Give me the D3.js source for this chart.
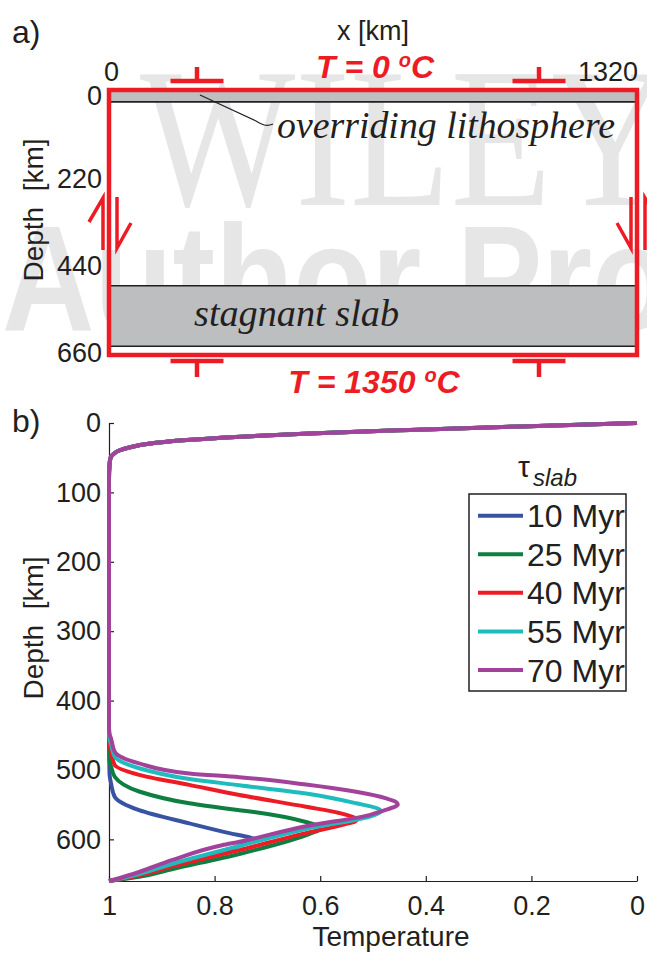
<!DOCTYPE html>
<html><head><meta charset="utf-8">
<script src="https://cdn.jsdelivr.net/npm/d3@7"></script>
<style>
body{margin:0;background:#fff;}
svg{display:block;}
text{font-family:"Liberation Sans",Arial,Helvetica,sans-serif;fill:#231f20;}
</style>
</head><body>
<svg id="chart" width="647" height="954"></svg>
<script>
// ---------- data ----------
const seriesLabels = ["10 Myr", "25 Myr", "40 Myr", "55 Myr", "70 Myr"];
const seriesColors = ["#3953a4", "#0e7f41", "#ed1c24", "#1fbcbd", "#a3429a"];
const tempTicks = [1, 0.8, 0.6, 0.4, 0.2, 0];
const depthTicks = [0, 100, 200, 300, 400, 500, 600];
const boxDepthTicks = [0, 220, 440, 660];
const boxXTicks = [0, 1320];
const boxMarkersX = [220, 1075];          // km, positions of red markers in panel a
const lithosphereBase = 25;               // km
const slabTop = 490, slabBase = 643;      // km

// shared thermal boundary layer at the surface: [T, depth]
const surfaceProfile = [[0,0],[0.22,5],[0.43,10],[0.62,15],[0.76,20],[0.86,25],[0.925,30],[0.96,35],[0.982,40],[0.992,45],[0.997,50],[0.999,60],[1,80]];
// slab profiles: [T, depth]
const slab10 = [[1,440],[0.999,505],[0.996,520],[0.989,539],[0.943,558],[0.848,577],[0.772,591],[0.735,597],[0.722,600],[0.735,604],[0.752,609],[0.829,629],[0.905,646],[0.962,655.5],[1,660]];
const slab25 = [[1,440],[0.999,485],[0.996,495],[0.989,510],[0.943,531],[0.848,548],[0.753,558],[0.722,561],[0.627,575],[0.603,581],[0.600,585],[0.62,592],[0.753,621],[0.881,643],[0.943,654],[1,660]];
const slab40 = [[1,440],[0.999,465],[0.996,474],[0.989,493],[0.943,507],[0.848,521.5],[0.753,536],[0.627,553],[0.564,562],[0.535,569],[0.532,573],[0.554,578.5],[0.627,591],[0.753,615.5],[0.881,639],[0.943,652],[1,660]];
const slab55 = [[1,440],[0.999,455],[0.996,463],[0.989,481],[0.943,497.5],[0.848,513],[0.753,522],[0.627,534],[0.532,548],[0.49,556],[0.485,560],[0.503,566.5],[0.627,585],[0.753,609.5],[0.881,635.5],[0.943,650],[0.981,657],[1,660]];
const slab70 = [[1,440],[0.999,448],[0.996,455],[0.989,474],[0.943,490.5],[0.848,505],[0.753,510.5],[0.627,521],[0.532,531.5],[0.475,541],[0.455,547],[0.453,550],[0.462,554],[0.48,558.5],[0.507,565],[0.627,581],[0.753,603.5],[0.786,608.5],[0.881,630],[0.943,647],[0.981,656],[1,660]];
const slabProfiles = [slab10, slab25, slab40, slab55, slab70];

// ---------- setup ----------
const svg = d3.select("#chart");
const red = "#ed1c24";
const ink = "#231f20";
const serif = '"Liberation Serif","DejaVu Serif",Georgia,serif';

// watermark
svg.append("text").attr("x", 140).attr("y", 205).attr("font-family", serif)
  .attr("font-size", 200).attr("textLength", 530).attr("lengthAdjust", "spacingAndGlyphs")
  .style("fill", "#e6e6e6").style("font-family", serif).text("WILEY");
svg.append("text").attr("x", 2).attr("y", 330)
  .attr("font-size", 150).attr("font-weight", "bold").attr("textLength", 789).attr("lengthAdjust", "spacingAndGlyphs")
  .style("fill", "#e6e6e6").text("Author Proof");

// ---------- panel a ----------
const xA = d3.scaleLinear().domain([0, 1320]).range([109, 637]);
const yA = d3.scaleLinear().domain([0, 660]).range([92, 353]);
const gA = svg.append("g");

gA.append("text").attr("x", 12).attr("y", 43).attr("font-size", 32).text("a)");
gA.append("text").attr("x", 373).attr("y", 40).attr("text-anchor", "middle").attr("font-size", 27).text("x [km]");

// bands
gA.append("rect").attr("x", xA(0)).attr("y", yA(0)).attr("width", xA(1320) - xA(0))
  .attr("height", yA(lithosphereBase) - yA(0)).attr("fill", "#bcbec0");
gA.append("rect").attr("x", xA(0)).attr("y", yA(slabTop)).attr("width", xA(1320) - xA(0))
  .attr("height", yA(slabBase) - yA(slabTop)).attr("fill", "#bcbec0");
[lithosphereBase, slabTop, slabBase].forEach(d => {
  gA.append("line").attr("x1", xA(0)).attr("x2", xA(1320)).attr("y1", yA(d)).attr("y2", yA(d))
    .attr("stroke", ink).attr("stroke-width", 1.6);
});

// labels in the box
gA.append("text").attr("x", 277).attr("y", 138).attr("font-size", 37).attr("font-style", "italic")
  .attr("textLength", 338).attr("lengthAdjust", "spacingAndGlyphs").style("font-family", serif)
  .text("overriding lithosphere");
gA.append("path").attr("d", "M200,95 L256,121 C262,124.5 266,127 273,124").attr("fill", "none")
  .attr("stroke", ink).attr("stroke-width", 1.2);
gA.append("text").attr("x", 194).attr("y", 326).attr("font-size", 37).attr("font-style", "italic")
  .attr("textLength", 205).attr("lengthAdjust", "spacingAndGlyphs").style("font-family", serif)
  .text("stagnant slab");

// red box
gA.append("rect").attr("x", xA(0)).attr("y", yA(0) - 2).attr("width", xA(1320) - xA(0))
  .attr("height", yA(660) - yA(0) + 4).attr("fill", "none").attr("stroke", red).attr("stroke-width", 4.5);

// axis labels
gA.selectAll("text.ya").data(boxDepthTicks).join("text").attr("class", "ya")
  .attr("x", 102).attr("y", (d, i) => yA(d) + (i === 0 ? 13 : 9)).attr("text-anchor", "end")
  .attr("font-size", 27).text(d => d);
gA.selectAll("text.xa").data(boxXTicks).join("text").attr("class", "xa")
  .attr("x", d => d === 0 ? xA(d) - 5 : xA(d) + 1).attr("y", 81)
  .attr("text-anchor", d => d === 0 ? "start" : "end").attr("font-size", 27).text(d => d);
gA.append("text").attr("transform", "translate(43,210) rotate(-90)").attr("text-anchor", "middle")
  .attr("font-size", 28).style("white-space", "pre").text("Depth  [km]");

// boundary conditions
gA.append("text").attr("x", 375).attr("y", 78).attr("text-anchor", "middle").attr("font-size", 32)
  .attr("font-weight", "bold").attr("font-style", "italic").style("fill", red)
  .call(t => { t.append("tspan").text("T = 0 "); t.append("tspan").attr("font-size", 20).attr("dy", -11).text("o"); t.append("tspan").attr("dy", 11).text("C"); });
gA.append("text").attr("x", 374).attr("y", 393).attr("text-anchor", "middle").attr("font-size", 32)
  .attr("font-weight", "bold").attr("font-style", "italic").style("fill", red)
  .call(t => { t.append("tspan").text("T = 1350 "); t.append("tspan").attr("font-size", 20).attr("dy", -11).text("o"); t.append("tspan").attr("dy", 11).text("C"); });

// red markers (free-slip symbols)
boxMarkersX.forEach(k => {
  const cx = xA(k);
  gA.append("path").attr("d", `M${cx - 26.5},81 H${cx + 26.5} M${cx},81 V67`).attr("stroke", red)
    .attr("stroke-width", 4.5).attr("fill", "none");
  gA.append("path").attr("d", `M${cx - 26.5},361 H${cx + 26.5} M${cx},361 V377`).attr("stroke", red)
    .attr("stroke-width", 4.5).attr("fill", "none");
});
// shear arrows
[[xA(0), 1], [xA(1320), -1]].forEach(([bx, s]) => {
  const l = bx - 6, r = bx + 8;
  const up = s === 1 ? l : r, down = s === 1 ? r : l;
  const upBarb = s === 1 ? up - 14 : up + 14, downBarb = s === 1 ? down + 14 : down - 14;
  gA.append("path").attr("d", `M${up},250 V198 L${upBarb},222`).attr("stroke", red).attr("stroke-width", 3.5).attr("fill", "none");
  gA.append("path").attr("d", `M${down},197 V248 L${downBarb},223`).attr("stroke", red).attr("stroke-width", 3.5).attr("fill", "none");
});

// ---------- panel b ----------
const xB = d3.scaleLinear().domain([1, 0]).range([109, 637]);
const yB = d3.scaleLinear().domain([0, 660]).range([423, 881]);
const gB = svg.append("g");

gB.append("text").attr("x", 12).attr("y", 432).attr("font-size", 32).text("b)");

const yAxis = d3.axisLeft(yB).tickValues(depthTicks).tickSizeInner(-5).tickSizeOuter(0).tickPadding(8);
const xAxis = d3.axisBottom(xB).tickValues(tempTicks).tickFormat(d3.format("")).tickSizeInner(-5).tickSizeOuter(0).tickPadding(15);
const gy = gB.append("g").attr("transform", `translate(${xB(1)},0)`).call(yAxis);
const gx = gB.append("g").attr("transform", `translate(0,${yB(660)})`).call(xAxis);
[gx, gy].forEach(g => {
  g.selectAll("path,line").attr("stroke", ink).attr("stroke-width", 1.2);
  g.selectAll("text").attr("font-size", 27).attr("font-family", null).style("fill", ink);
});

gB.append("text").attr("transform", "translate(43,628) rotate(-90)").attr("text-anchor", "middle")
  .attr("font-size", 28).style("white-space", "pre").text("Depth  [km]");
gB.append("text").attr("x", 391).attr("y", 946).attr("text-anchor", "middle").attr("font-size", 28).text("Temperature");

// curves
const line = d3.line().x(d => xB(d[0])).y(d => yB(d[1])).curve(d3.curveMonotoneY);
slabProfiles.forEach((slab, i) => {
  gB.append("path").datum(surfaceProfile.concat(slab)).attr("d", line)
    .attr("fill", "none").attr("stroke", seriesColors[i]).attr("stroke-width", 4)
    .attr("stroke-linejoin", "round");
});

// legend
const legY = d3.scalePoint().domain(seriesLabels).range([515.7, 670]);
const leg = gB.append("g");
leg.append("rect").attr("x", 469).attr("y", 494).attr("width", 157).attr("height", 197).attr("fill", "#fff");
seriesLabels.forEach((s, i) => {
  leg.append("line").attr("x1", 478).attr("x2", 523).attr("y1", legY(s)).attr("y2", legY(s))
    .attr("stroke", seriesColors[i]).attr("stroke-width", 4);
  leg.append("text").attr("x", 527).attr("y", legY(s) + 11.5).attr("font-size", 32).text(s);
});
leg.append("rect").attr("x", 469).attr("y", 494).attr("width", 157).attr("height", 197)
  .attr("fill", "none").attr("stroke", ink).attr("stroke-width", 1.5);
leg.append("text").attr("x", 518).attr("y", 477).attr("font-size", 30).text("τ");
leg.append("text").attr("x", 533).attr("y", 486).attr("font-size", 24).attr("font-style", "italic").text("slab");
</script>
</body></html>
